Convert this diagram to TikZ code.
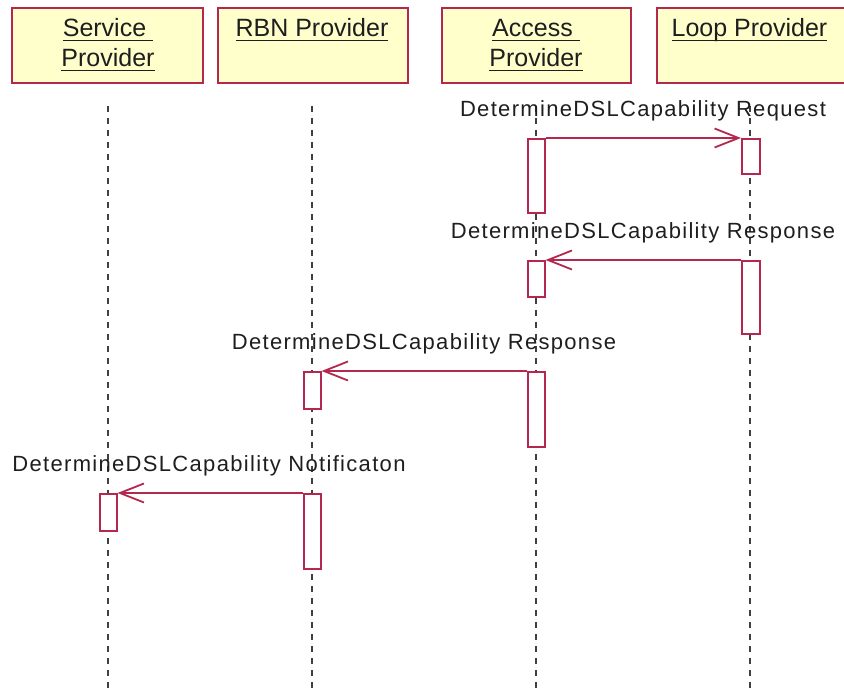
\documentclass[tikz,border=0pt]{standalone}
\usepackage{fontspec}
\setmainfont{Liberation Sans}
\newfontfamily\msgfont{Liberation Sans}[LetterSpace=6]
\usetikzlibrary{arrows.meta}
\definecolor{rose}{RGB}{180,40,80}
\definecolor{hdrfill}{RGB}{255,255,204}
\definecolor{ink}{RGB}{30,30,30}
\newcommand\hul[1]{\setbox0=\hbox{#1}\rlap{\rule[-4.3pt]{\wd0}{1.4pt}}\box0}
\begin{document}
\begin{tikzpicture}[x=1pt,y=-1pt,
  hdrbox/.style={draw=rose, fill=hdrfill, line width=2pt, minimum height=75pt, inner sep=0pt, anchor=north west},
  hdrtxt/.style={font=\fontsize{25}{30}\selectfont, text=ink, anchor=base, inner sep=0pt},
  life/.style={draw=ink!85, line width=1.8pt, dash pattern=on 6pt off 6pt},
  act/.style={draw=rose, fill=white, line width=2pt, minimum width=17pt, inner sep=0pt, anchor=north},
  msg/.style={draw=rose, line width=2pt, -{Straight Barb[length=24pt,width=19pt,line width=1.8pt]}},
  msgtxt/.style={font=\msgfont\fontsize{22}{26}\selectfont, text=ink, anchor=base, inner sep=0pt}]
\useasboundingbox (0,0) rectangle (844,692);
% header boxes
\node[hdrbox, minimum width=191pt] (sp) at (11,7) {};
\node[hdrbox, minimum width=190pt] (rbn) at (217,7) {};
\node[hdrbox, minimum width=189pt] (ap) at (441,7) {};
\node[hdrbox, minimum width=188pt] (lp) at (656,7) {};
\node[hdrtxt] (spt1) at (108,37) {\hul{Service }};
\node[hdrtxt] (spt2) at (108,67) {\hul{Provider}};
\node[hdrtxt] (rbnt) at (312,37) {\hul{RBN Provider}};
\node[hdrtxt] (apt1) at (536,37) {\hul{Access }};
\node[hdrtxt] (apt2) at (536,67) {\hul{Provider}};
\node[hdrtxt] (lpt) at (749.5,37) {\hul{Loop Provider}};
% lifelines
\coordinate (spa) at (108,106); \coordinate (spb) at (108,692);
\coordinate (rba) at (312,106); \coordinate (rbb) at (312,692);
\coordinate (apa) at (536,106); \coordinate (apb) at (536,692);
\coordinate (lpa) at (750,106); \coordinate (lpb) at (750,692);
\draw[life] (spa) -- (spb);
\draw[life] (rba) -- (rbb);
\draw[life] (apa) -- (apb);
\draw[life] (lpa) -- (lpb);
% activation bars
\node[act, minimum height=74pt] (a1) at (536,138) {};
\node[act, minimum height=35pt, minimum width=18pt] (l1) at (751,138) {};
\node[act, minimum height=36pt] (a2) at (536,260) {};
\node[act, minimum height=73pt, minimum width=18pt] (l2) at (751,260) {};
\node[act, minimum height=37pt] (r1) at (312,371) {};
\node[act, minimum height=75pt] (a3) at (536,371) {};
\node[act, minimum height=37pt] (s1) at (108,493) {};
\node[act, minimum height=75pt] (r2) at (312,493) {};
% messages
\draw[msg] (a1.north east) -- (l1.north west);
\draw[msg] (l2.north west) -- (a2.north east);
\draw[msg] (a3.north west) -- (r1.north east);
\draw[msg] (r2.north west) -- (s1.north east);
% message labels
\node[msgtxt] (m1) at (643,117) {DetermineDSLCapability Request};
\node[msgtxt] (m2) at (643,239) {DetermineDSLCapability Response};
\node[msgtxt] (m3) at (424,350) {DetermineDSLCapability Response};
\node[msgtxt] (m4) at (209,472) {DetermineDSLCapability Notificaton};
\end{tikzpicture}
\end{document}
